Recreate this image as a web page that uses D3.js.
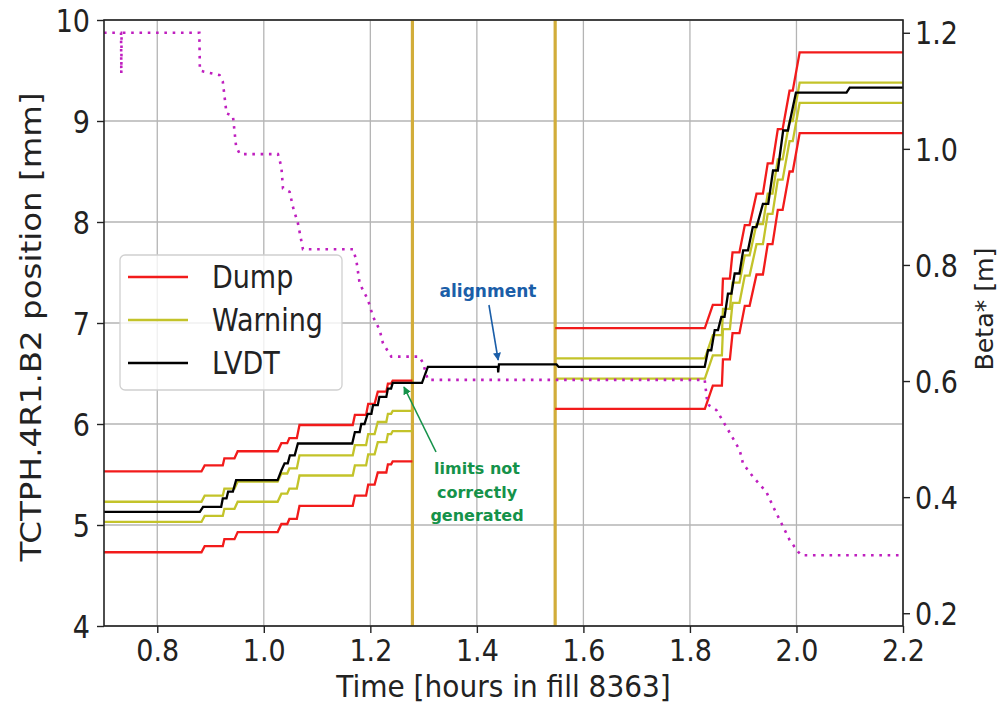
<!DOCTYPE html>
<html>
<head>
<meta charset="utf-8">
<script src="https://cdn.jsdelivr.net/npm/d3@7"></script>
<style>
  body { margin: 0; background: #fff; }
  text { font-family: "DejaVu Sans", sans-serif; fill: #222; }
  .tall { transform-box: fill-box; transform-origin: center; transform: scale(1, 1.16); }
  .tallx { transform-box: fill-box; transform-origin: center; transform: scale(1, 1.12); }
  .talll { transform-box: fill-box; transform-origin: center; transform: scale(1, 1.1); }
</style>
</head>
<body>
<script>
// ---- data ----
// limit plateaus (start time, end time) and the four limit levels [mm]
const plateauStart = [0.700, 0.889, 0.926, 0.951, 1.033, 1.048, 1.067, 1.171, 1.196, 1.214, 1.233, 1.242,
                      1.547, 1.843, 1.862, 1.880, 1.903, 1.925, 1.946, 1.965, 1.987, 2.006];
const plateauEnd   = [0.883, 0.923, 0.945, 1.026, 1.044, 1.062, 1.167, 1.192, 1.208, 1.230, 1.239, 1.279,
                      1.828, 1.860, 1.875, 1.893, 1.912, 1.937, 1.955, 1.974, 1.993, 2.200];
const dumpHigh = [5.53, 5.59, 5.66, 5.73, 5.81, 5.86, 5.99, 6.09, 6.20, 6.32, 6.40, 6.43,
                  6.95, 7.18, 7.44, 7.70, 7.97, 8.28, 8.58, 8.92, 9.30, 9.68];
const warnHigh = [5.23, 5.29, 5.36, 5.43, 5.51, 5.56, 5.69, 5.79, 5.90, 6.02, 6.10, 6.13,
                  6.65, 6.88, 7.14, 7.40, 7.67, 7.98, 8.28, 8.62, 9.00, 9.38];
const warnLow  = [5.03, 5.09, 5.16, 5.23, 5.31, 5.36, 5.49, 5.59, 5.70, 5.82, 5.90, 5.93,
                  6.45, 6.68, 6.94, 7.20, 7.47, 7.78, 8.08, 8.42, 8.80, 9.18];
const dumpLow  = [4.73, 4.79, 4.86, 4.93, 5.01, 5.06, 5.19, 5.29, 5.40, 5.52, 5.60, 5.63,
                  6.15, 6.38, 6.64, 6.90, 7.17, 7.48, 7.78, 8.12, 8.50, 8.88];

// LVDT measured position
const lvdtTime = [0.700, 0.880, 0.886, 0.920, 0.923, 0.930, 0.933, 0.942, 0.948, 1.026, 1.033, 1.039, 1.045,
                  1.049, 1.058, 1.064, 1.166, 1.171, 1.180, 1.183, 1.189, 1.195, 1.202, 1.205, 1.214, 1.217,
                  1.230, 1.233, 1.239, 1.242, 1.297, 1.308, 1.4395, 1.4400, 1.4415, 1.5495, 1.5535, 1.8277,
                  1.834, 1.840, 1.8465, 1.8527, 1.859, 1.865, 1.8714, 1.878, 1.884, 1.893, 1.900, 1.909,
                  1.918, 1.925, 1.937, 1.947, 1.956, 1.965, 1.975, 1.984, 1.999, 2.094, 2.100, 2.200];
const lvdtPos  = [5.13, 5.13, 5.18, 5.18, 5.263, 5.263, 5.33, 5.33, 5.444, 5.444, 5.54, 5.61, 5.61,
                  5.69, 5.69, 5.807, 5.807, 5.92, 5.92, 6.00, 6.00, 6.10, 6.10, 6.186, 6.186, 6.268,
                  6.268, 6.35, 6.35, 6.407, 6.407, 6.565, 6.565, 6.51, 6.59, 6.59, 6.565, 6.565,
                  6.73, 6.73, 6.93, 6.93, 7.06, 7.06, 7.29, 7.29, 7.49, 7.49, 7.72, 7.72,
                  7.95, 7.95, 8.18, 8.18, 8.51, 8.51, 8.906, 8.906, 9.28, 9.28, 9.33, 9.33];

// Beta* (right axis)
const betaTime = [0.700, 0.732, 0.7325, 0.733, 0.879, 0.880, 0.888, 0.917, 0.923, 0.930, 0.942, 0.948, 0.955,
                  1.0265, 1.033, 1.036, 1.0485, 1.0547, 1.064, 1.0735, 1.1674, 1.1737, 1.180, 1.1955, 1.205,
                  1.2175, 1.2237, 1.2394, 1.2925, 1.2988, 1.308, 1.8277, 1.833, 1.8497, 1.8684, 1.8934, 1.8996,
                  1.9184, 1.9435, 1.956, 1.9717, 1.9873, 2.0029, 2.0093, 2.200];
const betaVal  = [1.200, 1.200, 1.130, 1.200, 1.200, 1.135, 1.133, 1.127, 1.116, 1.061, 1.057, 1.004, 0.991,
                  0.991, 0.969, 0.932, 0.926, 0.900, 0.872, 0.827, 0.827, 0.808, 0.768, 0.740, 0.711,
                  0.688, 0.665, 0.642, 0.642, 0.631, 0.602, 0.602, 0.560, 0.550, 0.521, 0.481, 0.458,
                  0.435, 0.409, 0.384, 0.355, 0.326, 0.306, 0.300, 0.300];

// times where the limits were regenerated (vertical markers)
const markerTimes = [1.279, 1.547];

const xTicks = [0.8, 1.0, 1.2, 1.4, 1.6, 1.8, 2.0, 2.2];
const yTicks = [4, 5, 6, 7, 8, 9, 10];
const betaTicks = [0.2, 0.4, 0.6, 0.8, 1.0, 1.2];

const legendNames = ["Dump", "Warning", "LVDT"];

// ---- layout ----
const w = 1000, h = 704;
const plotLeft = 104, plotRight = 903, plotTop = 20, plotBottom = 626;
const red = "#f21b1b", olive = "#c3c32a", gold = "#d2ad3a", magenta = "#bf1fbf";

const svg = d3.select("body").append("svg")
    .attr("width", w)
    .attr("height", h);

const x = d3.scaleLinear().domain([0.7, 2.2]).range([plotLeft, plotRight]);
const y = d3.scaleLinear().domain([4, 10]).range([plotBottom, plotTop]);
const yBeta = d3.scaleLinear().domain([0.178, 1.222]).range([plotBottom, plotTop]);

// grid
svg.append("g").selectAll("line").data(xTicks).enter().append("line")
    .attr("x1", d => x(d)).attr("x2", d => x(d))
    .attr("y1", plotTop).attr("y2", plotBottom)
    .attr("stroke", "#b4b4b4").attr("stroke-width", 1.3);
svg.append("g").selectAll("line").data(yTicks).enter().append("line")
    .attr("x1", plotLeft).attr("x2", plotRight)
    .attr("y1", d => y(d)).attr("y2", d => y(d))
    .attr("stroke", "#b4b4b4").attr("stroke-width", 1.3);

// vertical markers
svg.append("g").selectAll("line").data(markerTimes).enter().append("line")
    .attr("x1", d => x(d)).attr("x2", d => x(d))
    .attr("y1", plotTop).attr("y2", plotBottom)
    .attr("stroke", gold).attr("stroke-width", 3.2);

// limit lines, built from the plateaus; a gap in time breaks the line
function limitPoints(levels) {
    const pts = [];
    levels.forEach((v, i) => {
        if (i > 0 && plateauStart[i] - plateauEnd[i - 1] > 0.05) pts.push(null);
        pts.push([plateauStart[i], v], [plateauEnd[i], v]);
    });
    return pts;
}
const line = d3.line()
    .defined(d => d !== null)
    .x(d => x(d[0]))
    .y(d => y(d[1]));

const limits = [
    { levels: dumpHigh, color: red },
    { levels: dumpLow, color: red },
    { levels: warnHigh, color: olive },
    { levels: warnLow, color: olive }
];
limits.forEach(l => {
    svg.append("path")
        .attr("d", line(limitPoints(l.levels)))
        .attr("fill", "none")
        .attr("stroke", l.color)
        .attr("stroke-width", 2.3);
});

// LVDT
svg.append("path")
    .attr("d", line(lvdtTime.map((t, i) => [t, lvdtPos[i]])))
    .attr("fill", "none")
    .attr("stroke", "#000")
    .attr("stroke-width", 2.3);

// Beta* dotted line
const betaLine = d3.line()
    .x(d => x(d[0]))
    .y(d => yBeta(d[1]));
svg.append("path")
    .attr("d", betaLine(betaTime.map((t, i) => [t, betaVal[i]])))
    .attr("fill", "none")
    .attr("stroke", magenta)
    .attr("stroke-width", 2.6)
    .attr("stroke-dasharray", "2.6,5.7");

// axes
const fs = 27;
const xAxis = svg.append("g")
    .attr("transform", `translate(0,${plotBottom})`)
    .call(d3.axisBottom(x).tickValues(xTicks).tickFormat(d3.format(".1f")).tickSizeOuter(0).tickSize(7));
const yAxis = svg.append("g")
    .attr("transform", `translate(${plotLeft},0)`)
    .call(d3.axisLeft(y).tickValues(yTicks).tickFormat(d3.format("d")).tickSizeOuter(0).tickSize(7).tickPadding(7));
const bAxis = svg.append("g")
    .attr("transform", `translate(${plotRight},0)`)
    .call(d3.axisRight(yBeta).tickValues(betaTicks).tickFormat(d3.format(".1f")).tickSizeOuter(0).tickSize(7).tickPadding(5));
[xAxis, yAxis, bAxis].forEach(a => {
    a.selectAll("text")
        .attr("font-size", fs).attr("font-family", "DejaVu Sans").attr("fill", "#222")
        .attr("dy", "0.36em")
        .attr("class", "tall");
    a.selectAll("line").attr("stroke", "#222").attr("stroke-width", 1.4);
    a.select(".domain").remove();
});
xAxis.selectAll("text").attr("y", 24).attr("class", "tallx");

// spines
svg.append("rect")
    .attr("x", plotLeft).attr("y", plotTop)
    .attr("width", plotRight - plotLeft).attr("height", plotBottom - plotTop)
    .attr("fill", "none").attr("stroke", "#222").attr("stroke-width", 1.6);

// axis labels
svg.append("text")
    .attr("x", (plotLeft + plotRight) / 2).attr("y", 686).attr("dy", "0.36em")
    .attr("text-anchor", "middle").attr("font-size", 28)
    .attr("class", "talll")
    .text("Time [hours in fill 8363]");
svg.append("text")
    .attr("transform", `translate(31,${(plotTop + plotBottom) / 2 + 4}) rotate(-90) scale(1.16,1)`)
    .attr("text-anchor", "middle").attr("font-size", 28).attr("dy", "0.36em")
    .text("TCTPH.4R1.B2 position [mm]");
svg.append("text")
    .attr("transform", `translate(984,309) rotate(-90) scale(1.05,1)`)
    .attr("text-anchor", "middle").attr("font-size", 24).attr("dy", "0.36em")
    .text("Beta* [m]");

// legend
const legend = svg.append("g");
legend.append("rect")
    .attr("x", 120).attr("y", 255).attr("width", 222).attr("height", 135)
    .attr("rx", 5).attr("fill", "#fff").attr("fill-opacity", 0.8)
    .attr("stroke", "#d0d0d0").attr("stroke-width", 1.3);
const legendColors = [red, olive, "#000"];
legendNames.forEach((name, i) => {
    const ly = 277 + i * 43;
    legend.append("line")
        .attr("x1", 128).attr("x2", 188).attr("y1", ly).attr("y2", ly)
        .attr("stroke", legendColors[i]).attr("stroke-width", 2.3);
    legend.append("text")
        .attr("x", 212).attr("y", ly).attr("dy", "0.36em")
        .attr("font-size", 27)
        .attr("class", "tall")
        .text(name);
});

// annotations
const defs = svg.append("defs");
[["arrBlue", "#1b5ea8"], ["arrGreen", "#15924a"]].forEach(([id, c]) => {
    defs.append("marker")
        .attr("id", id).attr("viewBox", "0 0 10 10")
        .attr("refX", 9).attr("refY", 5)
        .attr("markerWidth", 5).attr("markerHeight", 5)
        .attr("orient", "auto")
        .append("path").attr("d", "M0,0 L10,5 L0,10 z").attr("fill", c);
});
svg.append("line")
    .attr("x1", x(1.4227)).attr("y1", 305).attr("x2", x(1.4400)).attr("y2", 360)
    .attr("stroke", "#1b5ea8").attr("stroke-width", 1.6).attr("marker-end", "url(#arrBlue)");
svg.append("text")
    .attr("x", 488).attr("y", 297)
    .attr("text-anchor", "middle")
    .attr("font-family", "Liberation Sans").attr("font-weight", "bold").attr("font-size", 17)
    .style("fill", "#1b5ea8")
    .text("alignment");

svg.append("line")
    .attr("x1", 436).attr("y1", 452).attr("x2", 404).attr("y2", 387)
    .attr("stroke", "#15924a").attr("stroke-width", 1.6).attr("marker-end", "url(#arrGreen)");
["limits not", "correctly", "generated"].forEach((s, i) => {
    svg.append("text")
        .attr("x", 477).attr("y", 474 + i * 23.5)
        .attr("text-anchor", "middle")
        .attr("font-family", "Liberation Sans").attr("font-weight", "bold").attr("font-size", 16)
        .style("fill", "#15924a")
        .text(s);
});
</script>
</body>
</html>
